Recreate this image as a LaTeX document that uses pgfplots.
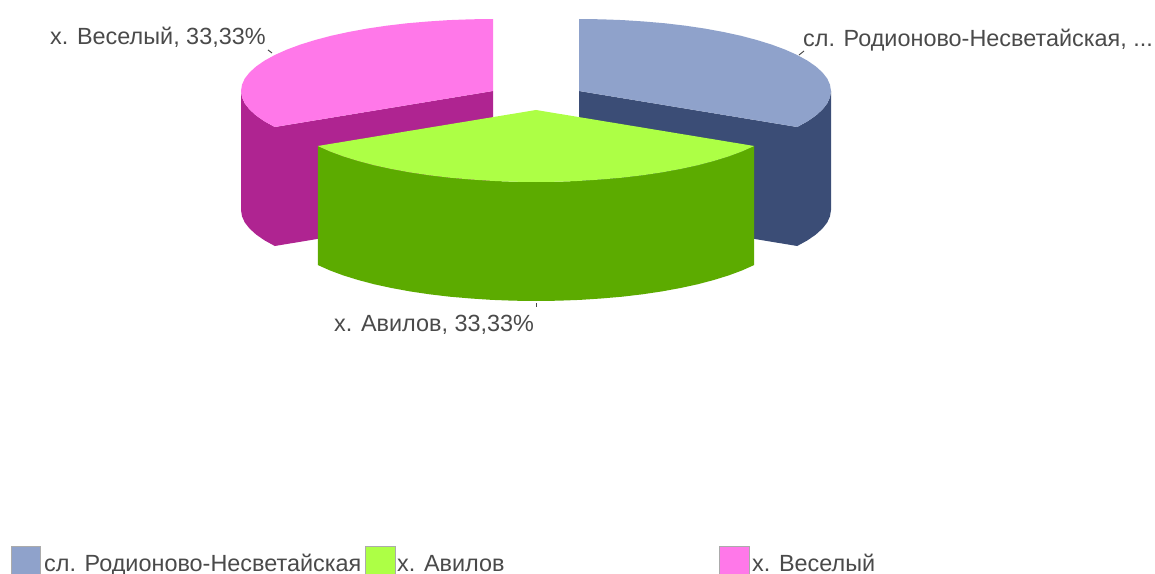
\documentclass[border=0pt]{standalone}
\usepackage{fontspec}
\setmainfont{Liberation Sans}
\usepackage{pgfplots}
\pgfplotsset{compat=1.18}
\definecolor{blueT}{HTML}{8FA2CB}
\definecolor{blueD}{HTML}{3B4D76}
\definecolor{greenT}{HTML}{ADFF45}
\definecolor{greenD}{HTML}{5CAB00}
\definecolor{pinkT}{HTML}{FF78E9}
\definecolor{pinkD}{HTML}{AF2491}
\definecolor{txt}{HTML}{4A4A4A}
\definecolor{swb}{HTML}{ABABAB}
\tikzset{
lbl/.style={anchor=base west,text=txt,font=\fontsize{23.5}{25}\selectfont,inner sep=0pt},
face/.style={draw=none,fill=#1}}

\begin{document}
\begin{tikzpicture}
\begin{axis}[
hide axis,scale only axis,
width=1155bp,height=574bp,
xmin=0,xmax=1155,ymin=0,ymax=574,
y dir=reverse]
% pink slice
\addplot[face=pinkD] coordinates {(493,91)(274.8,127)(274.8,246)(493,210)} --cycle;
\addplot[face=pinkD] coordinates {(241,91)(242,97.3)(244.8,103.5)(249.6,109.6)(256.2,115.6)(264.6,121.4)(274.8,127)(274.8,246)(264.6,240.4)(256.2,234.6)(249.6,228.6)(244.8,222.5)(242,216.3)(241,210)} --cycle;
\addplot[face=pinkT] coordinates {(493,91)(493,19)(471,19.3)(449.2,20.1)(427.8,21.5)(406.8,23.3)(386.5,25.7)(367,28.6)(348.5,32)(331,35.8)(314.8,40.1)(300,44.7)(286.6,49.7)(274.8,55)(264.6,60.6)(256.2,66.4)(249.6,72.4)(244.8,78.5)(242,84.7)(241,91)(242,97.3)(244.8,103.5)(249.6,109.6)(256.2,115.6)(264.6,121.4)(274.8,127)} --cycle;
% blue slice
\addplot[face=blueD] coordinates {(579,91)(797.2,127)(797.2,246)(579,210)} --cycle;
\addplot[face=blueD] coordinates {(831,91)(830,97.3)(827.2,103.5)(822.4,109.6)(815.8,115.6)(807.4,121.4)(797.2,127)(797.2,246)(807.4,240.4)(815.8,234.6)(822.4,228.6)(827.2,222.5)(830,216.3)(831,210)} --cycle;
\addplot[face=blueT] coordinates {(579,91)(579,19)(601,19.3)(622.8,20.1)(644.2,21.5)(665.2,23.3)(685.5,25.7)(705,28.6)(723.5,32)(741,35.8)(757.2,40.1)(772,44.7)(785.4,49.7)(797.2,55)(807.4,60.6)(815.8,66.4)(822.4,72.4)(827.2,78.5)(830,84.7)(831,91)(830,97.3)(827.2,103.5)(822.4,109.6)(815.8,115.6)(807.4,121.4)(797.2,127)} --cycle;
% green slice
\addplot[face=greenD] coordinates {(317.8,146)(329.6,151.3)(343,156.3)(357.8,160.9)(374,165.2)(391.5,169)(410,172.4)(429.5,175.3)(449.8,177.7)(470.8,179.5)(492.2,180.9)(514,181.7)(536,182)(558,181.7)(579.8,180.9)(601.2,179.5)(622.2,177.7)(642.5,175.3)(662,172.4)(680.5,169)(698,165.2)(714.2,160.9)(729,156.3)(742.4,151.3)(754.2,146)
(754.2,265)(742.4,270.3)(729,275.3)(714.2,279.9)(698,284.2)(680.5,288)(662,291.4)(642.5,294.3)(622.2,296.7)(601.2,298.5)(579.8,299.9)(558,300.7)(536,301)(514,300.7)(492.2,299.9)(470.8,298.5)(449.8,296.7)(429.5,294.3)(410,291.4)(391.5,288)(374,284.2)(357.8,279.9)(343,275.3)(329.6,270.3)(317.8,265)} --cycle;
\addplot[face=greenT] coordinates {(536,110)(754.2,146)(742.4,151.3)(729,156.3)(714.2,160.9)(698,165.2)(680.5,169)(662,172.4)(642.5,175.3)(622.2,177.7)(601.2,179.5)(579.8,180.9)(558,181.7)(536,182)(514,181.7)(492.2,180.9)(470.8,179.5)(449.8,177.7)(429.5,175.3)(410,172.4)(391.5,169)(374,165.2)(357.8,160.9)(343,156.3)(329.6,151.3)(317.8,146)} --cycle;
% leader ticks
\addplot[draw=txt,line width=1bp] coordinates {(268,50)(272,53)};
\addplot[draw=txt,line width=1bp] coordinates {(799,55)(804,51)};
\addplot[draw=txt,line width=1bp] coordinates {(536,303)(536,307)};
% legend swatches
\addplot[fill=blueT,draw=swb,line width=1.5bp] coordinates {(11.5,546.5)(40.5,546.5)(40.5,580)(11.5,580)} --cycle;
\addplot[fill=greenT,draw=swb,line width=1.5bp] coordinates {(365.5,546.5)(395.5,546.5)(395.5,580)(365.5,580)} --cycle;
\addplot[fill=pinkT,draw=swb,line width=1.5bp] coordinates {(719.5,546.5)(749.5,546.5)(749.5,580)(719.5,580)} --cycle;
% labels
\node[lbl] at (axis cs:50,45) {х. Веселый, 33,33\%};
\node[lbl] at (axis cs:803,47) {сл. Родионово-Несветайская, ...};
\node[lbl] at (axis cs:334,331) {х. Авилов, 33,33\%};
\node[lbl] at (axis cs:44,571) {сл. Родионово-Несветайская};
\node[lbl] at (axis cs:397,571) {х. Авилов};
\node[lbl] at (axis cs:752,571) {х. Веселый};
\end{axis}
\pgfresetboundingbox
\path[use as bounding box] (0,0) rectangle (1155bp,574bp);
\end{tikzpicture}
\end{document}
